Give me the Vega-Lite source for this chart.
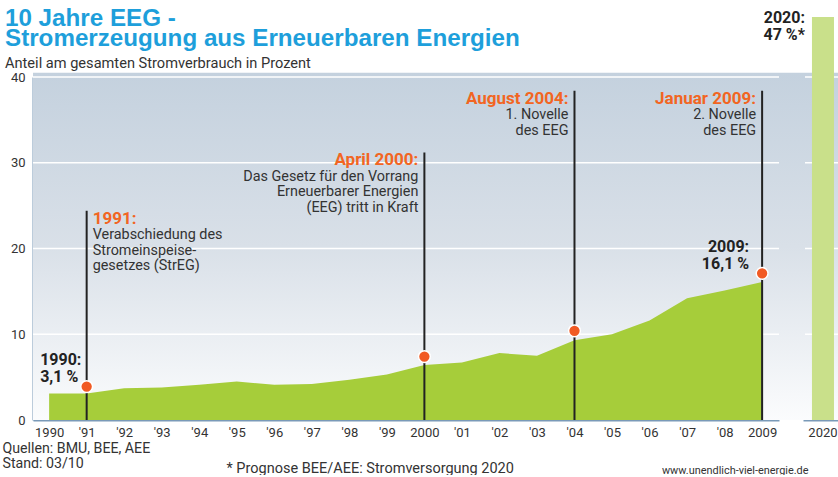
{
  "$schema": "https://vega.github.io/schema/vega-lite/v6.json",
  "padding": {"left": 2, "top": 7, "right": 0, "bottom": 0},
  "background": "white",
  "bounds": "flush",
  "spacing": 24,
  "config": {"font": "Roboto", "view": {"stroke": null}},
  "datasets": {
    "share": [
      {"year": 1990, "value": 3.1}, {"year": 1991, "value": 3.1}, {"year": 1992, "value": 3.7},
      {"year": 1993, "value": 3.8}, {"year": 1994, "value": 4.1}, {"year": 1995, "value": 4.5},
      {"year": 1996, "value": 4.1}, {"year": 1997, "value": 4.2}, {"year": 1998, "value": 4.7},
      {"year": 1999, "value": 5.3}, {"year": 2000, "value": 6.4}, {"year": 2001, "value": 6.7},
      {"year": 2002, "value": 7.8}, {"year": 2003, "value": 7.5}, {"year": 2004, "value": 9.3},
      {"year": 2005, "value": 10.0}, {"year": 2006, "value": 11.6}, {"year": 2007, "value": 14.2},
      {"year": 2008, "value": 15.1}, {"year": 2009, "value": 16.1}
    ],
    "events": [
      {"year": 1991, "dot": 3.9, "top": 24.4, "label": "1991:", "desc": ["Verabschiedung des", "Stromeinspeise-", "gesetzes (StrEG)"]},
      {"year": 2000, "dot": 7.4, "top": 31.2, "label": "April 2000:", "desc": ["Das Gesetz für den Vorrang", "Erneuerbarer Energien", "(EEG) tritt in Kraft"]},
      {"year": 2004, "dot": 10.4, "top": 38.4, "label": "August 2004:", "desc": ["1. Novelle", "des EEG"]},
      {"year": 2009, "dot": 17.1, "top": 38.4, "label": "Januar 2009:", "desc": ["2. Novelle", "des EEG"]}
    ],
    "callouts": [
      {"year": 1990, "value": 3.1, "text": ["1990:", "3,1 %"]},
      {"year": 2009, "value": 16.1, "text": ["2009:", "16,1 %"]}
    ],
    "grid": [{"v": 10}, {"v": 20}, {"v": 30}, {"v": 40}],
    "forecast": [{"year": "2020", "value": 47, "text": ["2020:", "47 %*"]}]
  },
  "hconcat": [
    {
      "width": 746,
      "height": 343,
      "title": {
        "text": ["10 Jahre EEG -", "Stromerzeugung aus Erneuerbaren Energien"],
        "subtitle": "Anteil am gesamten Stromverbrauch in Prozent",
        "anchor": "start",
        "frame": "group",
        "dx": -28,
        "offset": 0,
        "font": "Liberation Sans",
        "fontSize": 24.2,
        "fontWeight": "bold",
        "color": "#1e9fdb",
        "lineHeight": 20,
        "subtitleFont": "Roboto",
        "subtitleFontSize": 14.6,
        "subtitleColor": "#333333",
        "subtitlePadding": 5
      },
      "layer": [
        {
          "data": {"values": [{}]},
          "mark": {"type": "rect", "fill": {"gradient": "linear", "x1": 0, "y1": 0, "x2": 0, "y2": 1, "stops": [
            {"offset": 0, "color": "#c4d1de"}, {"offset": 0.5, "color": "#d9e0e8"}, {"offset": 1, "color": "#fbfcfd"}]}},
          "encoding": {
            "x": {"datum": 1989.57, "type": "quantitative",
              "scale": {"domain": [1989.57, 2009.45], "nice": false, "zero": false}},
            "x2": {"datum": 2010.09},
            "y": {"datum": 0, "type": "quantitative",
              "scale": {"domain": [0, 40], "nice": false}},
            "y2": {"datum": 40.5}
          }
        },
        {
          "data": {"name": "grid"},
          "mark": {"type": "rule", "color": "white", "strokeWidth": 1.5},
          "encoding": {
            "y": {"field": "v", "type": "quantitative"},
            "x": {"datum": 1989.57, "type": "quantitative"},
            "x2": {"datum": 2009.45}
          }
        },
        {
          "data": {"name": "share"},
          "mark": {"type": "area", "color": "#a6cd3a", "interpolate": "linear"},
          "encoding": {
            "x": {"field": "year", "type": "quantitative",
              "scale": {"domain": [1989.57, 2009.45], "nice": false, "zero": false},
              "axis": {
                "values": [1990, 1991, 1992, 1993, 1994, 1995, 1996, 1997, 1998, 1999, 2000, 2001, 2002, 2003, 2004, 2005, 2006, 2007, 2008, 2009],
                "tickCount": 20,
                "format": "d",
                "labelExpr": "datum.value % 10 == 0 || datum.value == 2009 ? datum.label : \"'\" + slice(datum.label, 2)",
                "labelOverlap": false, "labelBound": false, "labelFlush": false, "labelSeparation": 0,
                "grid": false, "ticks": false,
                "domainColor": "#7a9ab8", "domainWidth": 2,
                "labelFontSize": 13, "labelColor": "#333333", "labelPadding": 6, "labelFont": "Roboto",
                "title": ["Quellen: BMU, BEE, AEE", "Stand: 03/10"],
                "titleX": -31, "titleY": 32, "titleAlign": "left", "titleBaseline": "alphabetic",
                "titleFont": "Roboto", "titleFontSize": 14.2, "titleFontWeight": "normal", "titleColor": "#333333", "titleLineHeight": 15
              }},
            "y": {"field": "value", "type": "quantitative",
              "scale": {"domain": [0, 40], "nice": false},
              "axis": {
                "values": [0, 10, 20, 30, 40], "grid": false, "ticks": false,
                "domainColor": "#7a9ab8", "domainWidth": 2,
                "labelFontSize": 13, "labelColor": "#333333", "labelPadding": 8, "labelFont": "Roboto",
                "title": null
              }}
          }
        },
        {
          "data": {"name": "events"},
          "mark": {"type": "rule", "color": "#222222", "strokeWidth": 2},
          "encoding": {
            "x": {"field": "year", "type": "quantitative"},
            "y": {"field": "top", "type": "quantitative"},
            "y2": {"datum": 0}
          }
        },
        {
          "data": {"name": "events"},
          "mark": {"type": "point", "filled": true, "fill": "#f15a24", "stroke": "white", "strokeWidth": 1.5, "size": 140, "opacity": 1},
          "encoding": {
            "x": {"field": "year", "type": "quantitative"},
            "y": {"field": "dot", "type": "quantitative"}
          }
        },
        {
          "data": {"name": "events"},
          "transform": [{"filter": "datum.year == 1991"}],
          "mark": {"type": "text", "align": "left", "baseline": "alphabetic", "dx": 6, "dy": 13, "font": "Roboto", "fontSize": 17, "fontWeight": "bold", "color": "#f26522"},
          "encoding": {
            "x": {"field": "year", "type": "quantitative"},
            "y": {"field": "top", "type": "quantitative"},
            "text": {"field": "label"}
          }
        },
        {
          "data": {"name": "events"},
          "transform": [{"filter": "datum.year != 1991"}],
          "mark": {"type": "text", "align": "right", "baseline": "alphabetic", "dx": -6, "dy": 13, "font": "Roboto", "fontSize": 17, "fontWeight": "bold", "color": "#f26522"},
          "encoding": {
            "x": {"field": "year", "type": "quantitative"},
            "y": {"field": "top", "type": "quantitative"},
            "text": {"field": "label"}
          }
        },
        {
          "data": {"name": "events"},
          "transform": [{"filter": "datum.year == 1991"}],
          "mark": {"type": "text", "align": "left", "baseline": "alphabetic", "dx": 6, "dy": 28.5, "lineHeight": 15.5, "font": "Roboto", "fontSize": 14.4, "color": "#333333"},
          "encoding": {
            "x": {"field": "year", "type": "quantitative"},
            "y": {"field": "top", "type": "quantitative"},
            "text": {"field": "desc"}
          }
        },
        {
          "data": {"name": "events"},
          "transform": [{"filter": "datum.year != 1991"}],
          "mark": {"type": "text", "align": "right", "baseline": "alphabetic", "dx": -6, "dy": 28.5, "lineHeight": 15.5, "font": "Roboto", "fontSize": 14.4, "color": "#333333"},
          "encoding": {
            "x": {"field": "year", "type": "quantitative"},
            "y": {"field": "top", "type": "quantitative"},
            "text": {"field": "desc"}
          }
        },
        {
          "data": {"name": "callouts"},
          "transform": [{"filter": "datum.year == 1990"}],
          "mark": {"type": "text", "align": "left", "baseline": "alphabetic", "dx": -9, "dy": -28.5, "lineHeight": 17, "font": "Roboto", "fontSize": 16, "fontWeight": "bold", "color": "#222222"},
          "encoding": {
            "x": {"field": "year", "type": "quantitative"},
            "y": {"field": "value", "type": "quantitative"},
            "text": {"field": "text"}
          }
        },
        {
          "data": {"name": "callouts"},
          "transform": [{"filter": "datum.year == 2009"}],
          "mark": {"type": "text", "align": "right", "baseline": "alphabetic", "dx": -13, "dy": -29.8, "lineHeight": 17, "font": "Roboto", "fontSize": 16, "fontWeight": "bold", "color": "#222222"},
          "encoding": {
            "x": {"field": "year", "type": "quantitative"},
            "y": {"field": "value", "type": "quantitative"},
            "text": {"field": "text"}
          }
        }
      ]
    },
    {
      "width": 35,
      "height": 343,
      "layer": [
        {
          "data": {"values": [{}]},
          "mark": {"type": "rect", "fill": {"gradient": "linear", "x1": 0, "y1": 0, "x2": 0, "y2": 1, "stops": [
            {"offset": 0, "color": "#c4d1de"}, {"offset": 0.5, "color": "#d9e0e8"}, {"offset": 1, "color": "#fbfcfd"}]}},
          "encoding": {
            "x": {"value": 0},
            "x2": {"value": "width"},
            "y": {"datum": 0, "type": "quantitative",
              "scale": {"domain": [0, 40], "nice": false},
              "axis": {
                "labels": false, "ticks": false, "domain": false, "grid": false,
                "title": "www.unendlich-viel-energie.de",
                "titleAngle": 0, "titleX": 5, "titleY": 396, "titleAlign": "right", "titleBaseline": "alphabetic",
                "titleFont": "Roboto", "titleFontSize": 10.9, "titleFontWeight": "normal", "titleColor": "#333333"
              }},
            "y2": {"datum": 40.5}
          }
        },
        {
          "data": {"name": "grid"},
          "mark": {"type": "rule", "color": "white", "strokeWidth": 1.5},
          "encoding": {
            "y": {"field": "v", "type": "quantitative"},
            "x": {"value": 2},
            "x2": {"value": "width"}
          }
        },
        {
          "data": {"name": "forecast"},
          "mark": {"type": "bar", "color": "#c9e08a"},
          "encoding": {
            "x": {"field": "year", "type": "nominal",
              "scale": {"paddingInner": 0, "paddingOuter": 0.295, "align": 0.69},
              "axis": {
                "labelAngle": 0, "ticks": false, "grid": false,
                "domainColor": "#7a9ab8", "domainWidth": 2,
                "labelFontSize": 13, "labelColor": "#333333", "labelPadding": 6, "labelFont": "Roboto",
                "title": "* Prognose BEE/AEE: Stromversorgung 2020",
                "titleX": -577, "titleY": 52, "titleAlign": "left", "titleBaseline": "alphabetic",
                "titleFont": "Roboto", "titleFontSize": 14.5, "titleFontWeight": "normal", "titleColor": "#333333"
              }},
            "y": {"field": "value", "type": "quantitative"}
          }
        },
        {
          "data": {"name": "forecast"},
          "mark": {"type": "text", "align": "right", "baseline": "alphabetic", "dx": -18, "dy": 6, "lineHeight": 17, "font": "Roboto", "fontSize": 16, "fontWeight": "bold", "color": "#222222"},
          "encoding": {
            "x": {"field": "year", "type": "nominal"},
            "y": {"field": "value", "type": "quantitative"},
            "text": {"field": "text"}
          }
        }
      ]
    }
  ]
}
